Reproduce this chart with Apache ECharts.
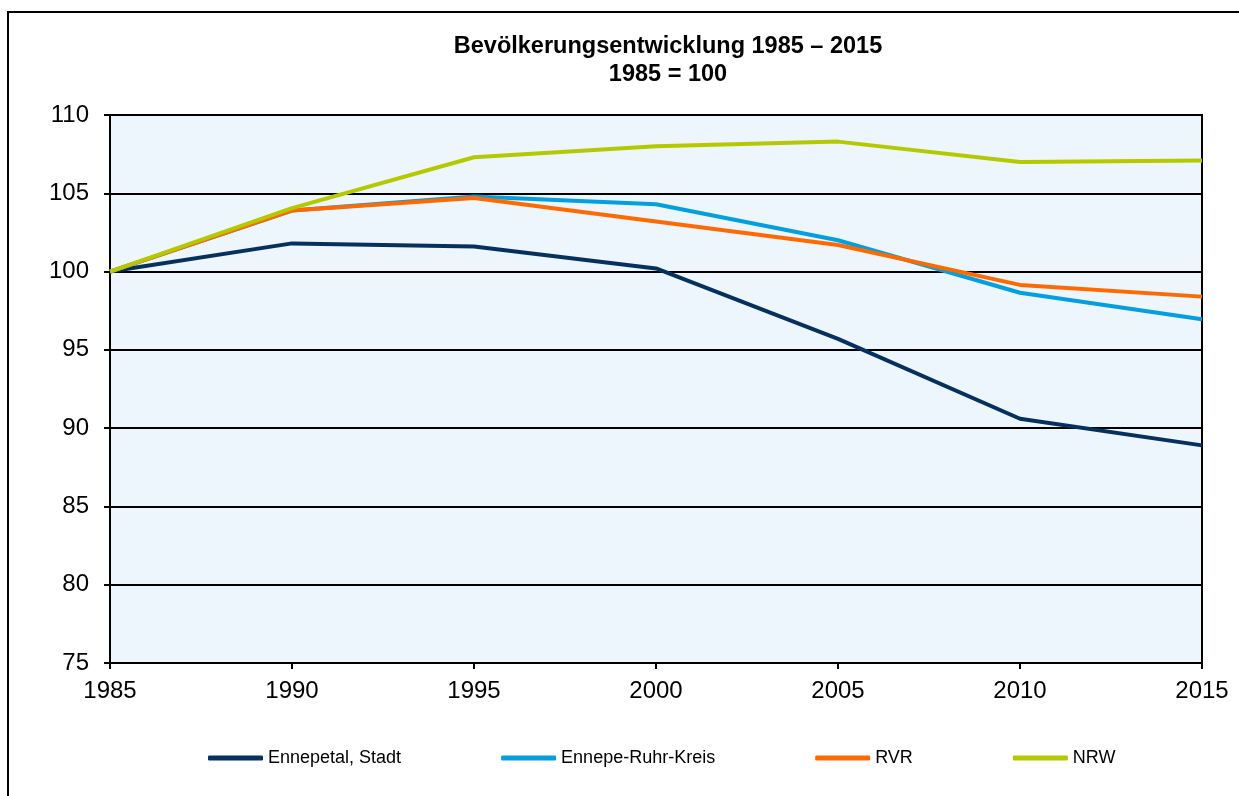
<!DOCTYPE html>
<html>
<head>
<meta charset="utf-8">
<script src="https://cdn.jsdelivr.net/npm/echarts@6/dist/echarts.min.js"></script>
<style>html,body{margin:0;padding:0;background:#fff}#c{width:1239px;height:796px}</style>
</head>
<body>
<div id="c"></div>
<script>
const years = ['1985','1990','1995','2000','2005','2010','2015'];
const ennepetal = [100, 101.8, 101.6, 100.2, 95.7, 90.6, 88.9];
const ennepeRuhrKreis = [100, 103.9, 104.8, 104.3, 102.0, 98.65, 96.95];
const rvr = [100, 103.9, 104.7, 103.2, 101.7, 99.15, 98.4];
const nrw = [100, 104.05, 107.3, 108.0, 108.3, 107.0, 107.1];
const seriesNames = ['Ennepetal, Stadt', 'Ennepe-Ruhr-Kreis', 'RVR', 'NRW'];
const seriesColors = ['#06315F', '#049FDF', '#FF6A00', '#B5C900'];
const titleLines = ['Bevölkerungsentwicklung 1985 – 2015', '1985 = 100'];

const chart = echarts.init(document.getElementById('c'));
const font = 'Liberation Sans, Arial, sans-serif';
const dataSets = [ennepetal, ennepeRuhrKreis, rvr, nrw];
chart.setOption({
  animation: false,
  backgroundColor: '#ffffff',
  title: {
    text: titleLines.join('\n'),
    left: 663, top: 28, textAlign: 'center',
    textStyle: { fontFamily: font, fontSize: 23.5, fontWeight: 'bold', color: '#000', lineHeight: 28 }
  },
  graphic: [{
    type: 'rect', shape: { x: 8, y: 12, width: 1300, height: 900 },
    style: { fill: 'none', stroke: '#000', lineWidth: 2 }, z: -1
  }],
  legend: {
    left: 208, top: 749, padding: 0, itemGap: 100, itemWidth: 55, itemHeight: 5,
    icon: 'roundRect',
    textStyle: { fontFamily: font, fontSize: 18, color: '#000' },
    data: seriesNames
  },
  grid: {
    left: 110, right: 37, top: 115, bottom: 133, show: true,
    backgroundColor: '#EEF6FD', borderColor: '#000', borderWidth: 2
  },
  xAxis: {
    type: 'category', data: years, boundaryGap: false,
    axisLine: { lineStyle: { color: '#000', width: 2 } },
    axisTick: { show: true, length: 6, lineStyle: { color: '#000', width: 2 } },
    axisLabel: { fontFamily: font, fontSize: 24, color: '#000', margin: 16 },
    splitLine: { show: false }
  },
  yAxis: {
    type: 'value', min: 75, max: 110, interval: 5,
    axisLine: { show: true, lineStyle: { color: '#000', width: 2 } },
    axisTick: { show: true, length: 6, lineStyle: { color: '#000', width: 2 } },
    axisLabel: { fontFamily: font, fontSize: 24, color: '#000', margin: 21 },
    splitLine: { show: true, lineStyle: { color: '#000', width: 2 } }
  },
  series: seriesNames.map((n, i) => ({
    name: n, type: 'line', data: dataSets[i], symbol: 'none',
    color: seriesColors[i],
    lineStyle: { width: 4, color: seriesColors[i] }
  }))
});
</script>
</body>
</html>
